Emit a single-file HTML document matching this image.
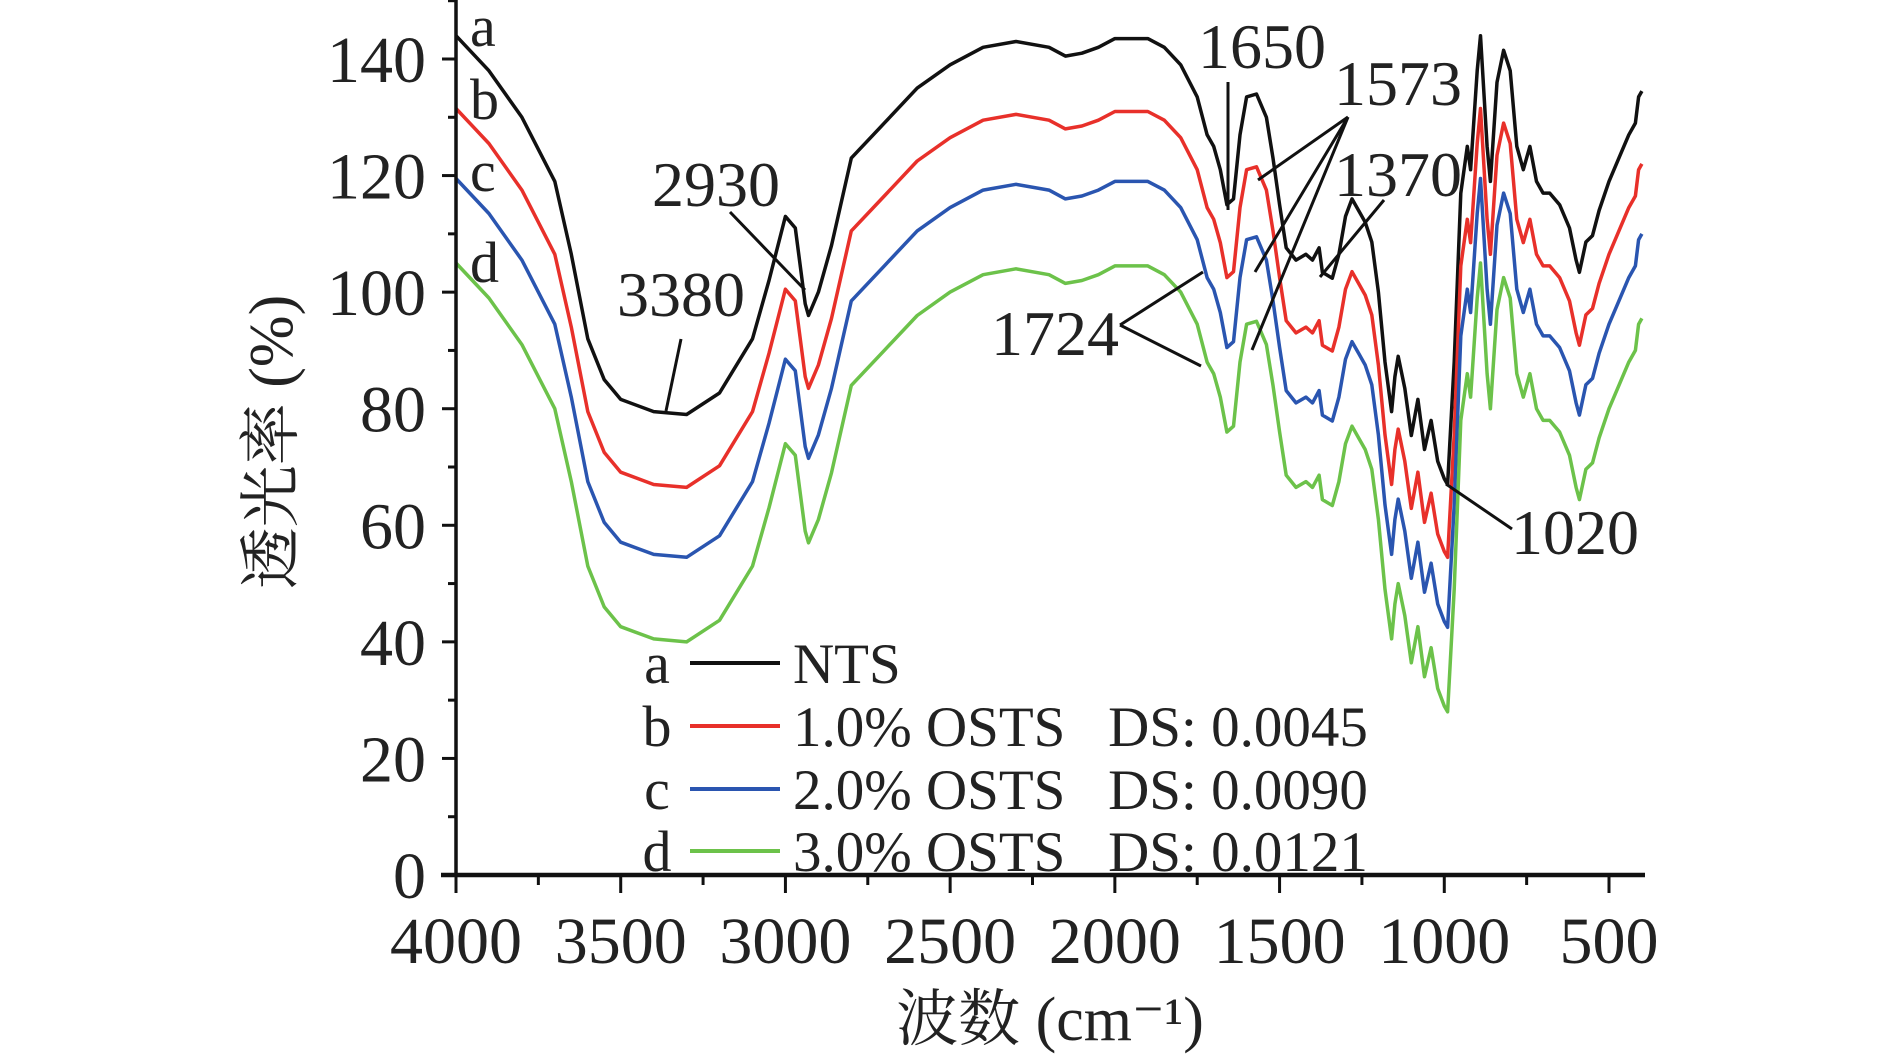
<!DOCTYPE html>
<html><head><meta charset="utf-8"><style>
html,body{margin:0;padding:0;background:#fff;}
svg{display:block;font-family:"Liberation Serif","Noto Serif CJK SC",serif;}
</style></head><body>
<svg id="chart" width="1890" height="1062" viewBox="0 0 1890 1062" xmlns="http://www.w3.org/2000/svg">
<g id="plot"></g>
</svg>
<script>
const wavenumbers=[4000,3900,3800,3700,3650,3600,3550,3500,3400,3300,3200,3100,3050,3000,2970,2940,2930,2900,2860,2800,2700,2600,2500,2400,2300,2200,2150,2100,2050,2000,1900,1850,1800,1750,1720,1700,1680,1660,1640,1620,1600,1570,1540,1520,1500,1480,1450,1420,1400,1380,1370,1340,1320,1300,1280,1260,1240,1220,1200,1180,1160,1150,1140,1120,1100,1080,1060,1040,1020,1000,990,970,950,930,920,900,890,870,860,840,820,800,780,760,740,720,700,680,650,620,600,590,570,550,530,500,470,440,420,410,400];
const seriesA=[144,138,130,119,106.5,92,85,81.6,79.5,79,82.7,92,102,113,111,98,96,100,108,123,129,135,139,142,143,142,140.5,141,142,143.5,143.5,142,139,133.5,127,125,121,115,116,127,133.5,134,130,123,115,107.6,105.5,106.5,105.5,107.6,103.4,102.4,106.5,113,116,114,112,108.6,100,88,79.5,85.5,89,83.5,75.4,81.6,73,78,71,68,67,88,117,125,121,138,144,125,119,136,141.5,138,125,121,125,119,117,117,115,111,105.5,103.4,108.6,109.7,114,119,123,127,129,133.5,134.5];
const seriesB=[131.5,125.5,117.5,106.5,94,79.5,72.5,69.1,67,66.5,70.2,79.5,89.5,100.5,98.5,85.5,83.5,87.5,95.5,110.5,116.5,122.5,126.5,129.5,130.5,129.5,128,128.5,129.5,131,131,129.5,126.5,121,114.5,112.5,108.5,102.5,103.5,114.5,121,121.5,117.5,110.5,102.5,95.1,93,94,93,95.1,90.9,89.9,94,100.5,103.5,101.5,99.5,96.1,87.5,75.5,67,73,76.5,71,62.9,69.1,60.5,65.5,58.5,55.5,54.5,75.5,104.5,112.5,108.5,125.5,131.5,112.5,106.5,123.5,129,125.5,112.5,108.5,112.5,106.5,104.5,104.5,102.5,98.5,93,90.9,96.1,97.2,101.5,106.5,110.5,114.5,116.5,121,122];
const seriesC=[119.5,113.5,105.5,94.5,82,67.5,60.5,57.1,55,54.5,58.2,67.5,77.5,88.5,86.5,73.5,71.5,75.5,83.5,98.5,104.5,110.5,114.5,117.5,118.5,117.5,116,116.5,117.5,119,119,117.5,114.5,109,102.5,100.5,96.5,90.5,91.5,102.5,109,109.5,105.5,98.5,90.5,83.1,81,82,81,83.1,78.9,77.9,82,88.5,91.5,89.5,87.5,84.1,75.5,63.5,55,61,64.5,59,50.9,57.1,48.5,53.5,46.5,43.5,42.5,63.5,92.5,100.5,96.5,113.5,119.5,100.5,94.5,111.5,117,113.5,100.5,96.5,100.5,94.5,92.5,92.5,90.5,86.5,81,78.9,84.1,85.2,89.5,94.5,98.5,102.5,104.5,109,110];
const seriesD=[105,99,91,80,67.5,53,46,42.6,40.5,40,43.7,53,63,74,72,59,57,61,69,84,90,96,100,103,104,103,101.5,102,103,104.5,104.5,103,100,94.5,88,86,82,76,77,88,94.5,95,91,84,76,68.6,66.5,67.5,66.5,68.6,64.4,63.4,67.5,74,77,75,73,69.6,61,49,40.5,46.5,50,44.5,36.4,42.6,34,39,32,29,28,49,78,86,82,99,105,86,80,97,102.5,99,86,82,86,80,78,78,76,72,66.5,64.4,69.6,70.7,75,80,84,88,90,94.5,95.5];
const xTicks=[4000,3500,3000,2500,2000,1500,1000,500];
const yTicks=[0,20,40,60,80,100,120,140];
const legendKeys=["a","b","c","d"];
const legendLabels=["NTS","1.0% OSTS   DS: 0.0045","2.0% OSTS   DS: 0.0090","3.0% OSTS   DS: 0.0121"];

const NS="http://www.w3.org/2000/svg";
const g=document.getElementById('plot');
const X0=456,XPX=(1609-456)/3500,Y0=875,YPX=(875-59)/140;
function xs(w){return X0+(4000-w)*XPX;}
function ys(v){return Y0-v*YPX;}
function mk(tag,attrs,parent){const e=document.createElementNS(NS,tag);for(const k in attrs)e.setAttribute(k,attrs[k]);(parent||g).appendChild(e);return e;}
function txt(s,x,y,size,anchor){const t=mk('text',{x:x,y:y,'font-size':size,'text-anchor':anchor||'start',fill:'#222'});t.textContent=s;return t;}

const colors=['#111111','#e8302a','#2a55b0','#6cc24a'];
const all=[seriesA,seriesB,seriesC,seriesD];
const names=['series-a-nts','series-b-1pct','series-c-2pct','series-d-3pct'];
all.forEach((s,i)=>{
  const p=s.map((v,j)=>xs(wavenumbers[j]).toFixed(1)+','+ys(v).toFixed(1)).join(' ');
  const pl=mk('polyline',{points:p,fill:'none',stroke:colors[i],'stroke-width':3.5,'stroke-linejoin':'round'});
  
  
});

const ax=mk('line',{x1:X0,y1:0,x2:X0,y2:Y0+2,stroke:'#111','stroke-width':3.5});


const bx=mk('line',{x1:X0-15,y1:Y0,x2:1645,y2:Y0,stroke:'#111','stroke-width':4.5});


yTicks.forEach(v=>{
  const tk=mk('line',{x1:X0-14,y1:ys(v),x2:X0,y2:ys(v),stroke:'#111','stroke-width':3});
  
  
  const m=mk('line',{x1:X0-8,y1:ys(v+10),x2:X0,y2:ys(v+10),stroke:'#111','stroke-width':3});
  
  
  const t=txt(String(v),X0-30,ys(v)+23,66,'end');
  
  
});
xTicks.forEach(w=>{
  const tk=mk('line',{x1:xs(w),y1:Y0,x2:xs(w),y2:Y0+18,stroke:'#111','stroke-width':3});
  
  
  if(w>500){const m=mk('line',{x1:xs(w-250),y1:Y0,x2:xs(w-250),y2:Y0+10,stroke:'#111','stroke-width':3});
  
  }
  const t=txt(String(w),xs(w),Y0+88,66,'middle');
  
  
});
const xt=txt('波数 (cm⁻¹)',1050,1040,62,'middle');


const yt=txt('透光率 (%)',0,0,62,'middle');
yt.setAttribute('transform','translate(292,442) rotate(-90)');



[['a',24],['b',97],['c',169],['d',260]].forEach(([k,y])=>{
  const t=txt(k,470,y+22,58,'start');
  
  
});

const ann=[['3380',681,316],['2930',716,206],['1650',1262,68],['1573',1398,105],['1370',1398,196],['1724',1055,355],['1020',1575,554]];
ann.forEach(([s,x,y])=>{
  const t=txt(s,x,y,64,'middle');
  
  
});
const leaders=[[681,339,666,411],[730,212,805,290],[1228,82,1228,210],[1348,117,1258,180],[1348,117,1255,272],[1348,117,1252,350],[1384,200,1320,277],[1120,325,1203,272],[1120,325,1201,366],[1512,529,1446,484]];
leaders.forEach(l=>{
  const e=mk('line',{x1:l[0],y1:l[1],x2:l[2],y2:l[3],stroke:'#111','stroke-width':3});
  
  
});

const LY=[663,726,789,851];
legendKeys.forEach((k,i)=>{
  const t=txt(k,657,LY[i]+20,58,'middle');
  
  
  const ln=mk('line',{x1:690,y1:LY[i],x2:780,y2:LY[i],stroke:colors[i],'stroke-width':4});
  
  
  const lt=txt(legendLabels[i],793,LY[i]+20,57,'start');
  lt.setAttribute('xml:space','preserve');
  lt.style.whiteSpace='pre';
  
  
});
</script>
</body></html>
